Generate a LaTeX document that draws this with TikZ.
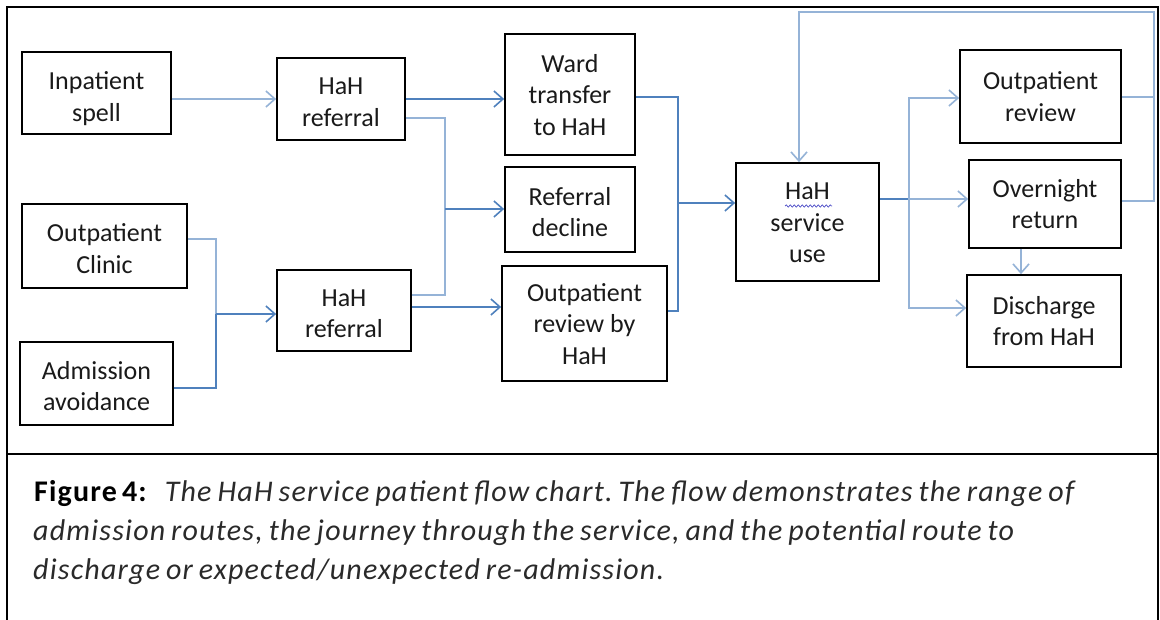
\documentclass[tikz,border=0pt]{standalone}
\usepackage{fontspec}
\setmainfont{Carlito}
\newfontfamily\capfont[LetterSpace=4,WordSpace=0.75]{Carlito}
\usetikzlibrary{arrows.meta,decorations.pathmorphing}
\definecolor{flowd}{HTML}{4F81BD}
\definecolor{flowl}{HTML}{95B3D7}
\definecolor{boxtxt}{HTML}{1A1A1A}
\definecolor{captxt}{HTML}{2A2A2A}
\definecolor{squig}{HTML}{5050C8}
\newcommand{\tstr}[1]{\rule{0pt}{#1}}
\begin{document}
\frenchspacing
\begin{tikzpicture}[x=1bp,y=-1bp,
  box/.style={draw=black, line width=1.7bp, fill=white, inner sep=0pt, align=center,
              font=\fontsize{26bp}{31.5bp}\selectfont, text=boxtxt},
  flow/.style={draw=flowd, line width=1.7bp},
  flowlt/.style={draw=flowl, line width=1.9bp},
  arr/.style={-{Straight Barb[length=9bp,width=16bp,line width=1.6bp]}},
  frame/.style={draw=black, line width=2bp},
  captext/.style={anchor=base west, inner sep=0pt, font=\capfont\fontsize{30bp}{39bp}\selectfont, text=captxt}]
\useasboundingbox (0,0) rectangle (1160,620);
\fill[white] (0,0) rectangle (1160,620);
% frame
\draw[frame] (7,640) -- (7,7) -- (1158,7) -- (1158,640);
\draw[frame] (7,454) -- (1158,454);
% boxes
\node[box, minimum width=149bp, minimum height=82bp] (inp) at (96.5,93) {\tstr{29bp}Inpatient\\spell};
\node[box, minimum width=128bp, minimum height=82bp] (ref1) at (341,99) {\tstr{23.4bp}HaH\\referral};
\node[box, minimum width=165bp, minimum height=84bp] (opc) at (104.5,246) {\tstr{23.4bp}Outpatient\\Clinic};
\node[box, minimum width=153bp, minimum height=83bp] (adm) at (96.5,383.5) {\tstr{23.4bp}Admission\\avoidance};
\node[box, minimum width=134bp, minimum height=81bp] (ref2) at (344,310.5) {\tstr{23.4bp}HaH\\referral};
\node[box, minimum width=130bp, minimum height=121bp] (ward) at (570,94.5) {\tstr{18.4bp}Ward\\transfer\\to HaH};
\node[box, minimum width=130bp, minimum height=85bp] (dec) at (570,209.5) {\tstr{23.4bp}Referral\\decline};
\node[box, minimum width=165bp, minimum height=115bp] (oprh) at (584.5,323.5) {\tstr{18.4bp}Outpatient\\review by\\HaH};
\node[box, minimum width=143bp, minimum height=118bp] (svc) at (807.5,222) {\tstr{18.4bp}HaH\\service\\use};
\node[box, minimum width=161bp, minimum height=93bp] (opr) at (1040.5,96.5) {Outpatient\\review};
\node[box, minimum width=152bp, minimum height=88bp] (ovn) at (1045,204) {Overnight\\return};
\node[box, minimum width=154bp, minimum height=92bp] (dis) at (1044,321) {Discharge\\from HaH};
% spell-check squiggle under HaH
\draw[squig, line width=0.7bp, decorate, decoration={snake, amplitude=1.1bp, segment length=4bp}] (785,206) -- (832,206);
% helper coordinates
\coordinate (j1) at (445,209);
\coordinate (j2) at (216,314);
\coordinate (j3) at (678,203);
\coordinate (j4) at (909,199);
\coordinate (rt) at (1154,12);
\coordinate (lt) at (799,12);
\coordinate (y97) at (0,97);
\coordinate (y98) at (0,98);
\coordinate (y118) at (0,118);
\coordinate (y201) at (0,201);
\coordinate (y239) at (0,239);
\coordinate (y295) at (0,295);
\coordinate (y307) at (0,307);
\coordinate (y308) at (0,308);
\coordinate (y311) at (0,311);
\coordinate (y388) at (0,388);
\coordinate (x1021) at (1021,0);
% connectors
\draw[flowlt,arr] (inp.east |- ref1.west) -- (ref1.west);
\draw[flow,arr] (ref1.east) -- (ref1.east -| ward.west);
\draw[flowlt] (ref1.east |- y118) -| (j1);
\draw[flowlt] (ref2.east |- y295) -| (j1);
\draw[flow,arr] (j1) -- (j1 -| dec.west);
\draw[flow,arr] (ref2.east |- y307) -- (oprh.west |- y307);
\draw[flowlt] (opc.east |- y239) -| (j2);
\draw[flow] (adm.east |- y388) -| (j2);
\draw[flow,arr] (j2) -- (j2 -| ref2.west);
\draw[flow] (ward.east |- y97) -| (j3);
\draw[flow] (oprh.east |- y311) -| (j3);
\draw[flow,arr] (j3) -- (j3 -| svc.west);
\draw[flow] (svc.east |- j4) -- (j4);
\draw[flowlt,arr] (j4) |- (opr.west |- y98);
\draw[flowlt,arr] (j4) -- (j4 -| ovn.west);
\draw[flowlt,arr] (j4) |- (dis.west |- y308);
\draw[flowlt] (opr.east |- y97) -- (rt |- y97);
\draw[flowlt,arr] (ovn.east |- y201) -- (rt |- y201) -- (rt) -- (lt) -- (lt |- svc.north);
\draw[flowlt,arr] (ovn.south -| x1021) -- (dis.north -| x1021);
% caption
\node[captext] (cap1) at (34,501) {{\bfseries\color{black}Figure\,4:}\hspace{18bp}{\itshape The HaH service patient flow chart. The flow demonstrates the range of}};
\node[captext] (cap2) at (33,540) {\itshape admission routes, the journey through the service, and the potential route to};
\node[captext] (cap3) at (33,579) {\itshape discharge or expected/unexpected re-admission.};
\end{tikzpicture}
\end{document}
